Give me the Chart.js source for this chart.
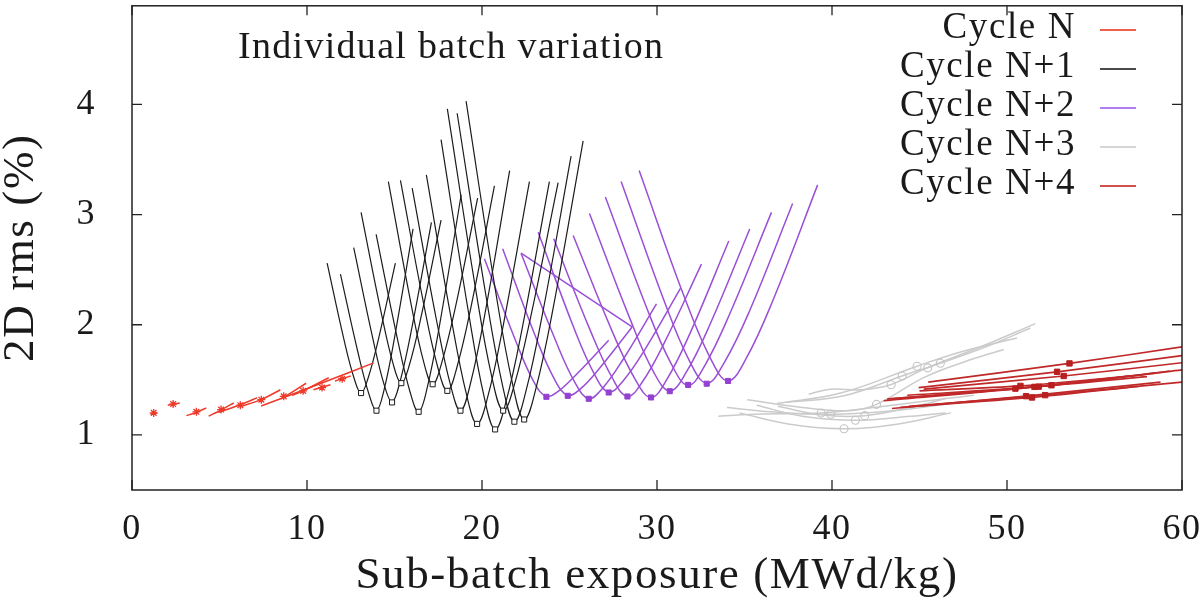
<!DOCTYPE html>
<html><head><meta charset="utf-8">
<script src="https://cdn.jsdelivr.net/npm/chart.js@4.4.1/dist/chart.umd.min.js"></script>
<style>html,body{margin:0;padding:0;background:#fff;}#wrap{width:1200px;height:611px;position:relative;}</style>
</head><body><div id="wrap"><canvas id="c" width="1200" height="611"></canvas></div>
<script>
// ---------- axis ticks ----------
const xTicks = [0, 10, 20, 30, 40, 50, 60];
const yTicks = [1, 2, 3, 4];
const seriesNames = ['Cycle N', 'Cycle N+1', 'Cycle N+2', 'Cycle N+3', 'Cycle N+4'];
const annotationText = 'Individual batch variation';

// ---------- Cycle N (asterisks + short segments) ----------
const cycleNMarkers = [[1.24,1.20],[2.35,1.28],[3.68,1.21],[5.09,1.23],[6.19,1.27],[7.39,1.32],[8.67,1.35],[9.78,1.40],[10.86,1.43],[12.01,1.51]];
const cycleNLines = [
  [[1.05,1.19],[1.45,1.20]],
  [[2.04,1.27],[2.73,1.29]],
  [[3.11,1.175],[3.68,1.205],[4.25,1.245]],
  [[4.38,1.17],[5.09,1.226],[5.81,1.29]],
  [[4.95,1.205],[6.19,1.274],[7.15,1.337]],
  [[6.19,1.256],[7.39,1.32],[8.48,1.41]],
  [[7.38,1.262],[8.67,1.34],[11.0,1.48],[13.81,1.654]],
  [[9.15,1.358],[9.78,1.40],[11.24,1.519]],
  [[8.67,1.34],[9.95,1.469]],
  [[10.37,1.41],[10.86,1.433],[11.34,1.455]],
  [[11.6,1.49],[12.01,1.51],[12.5,1.535]]
];

// ---------- Cycle N+1 (black curves, open squares) ----------
const cycleN1Markers = [[13.09,1.38],[13.97,1.22],[14.86,1.295],[15.39,1.47],[16.38,1.21],[17.18,1.46],[18.02,1.40],[18.77,1.22],[19.72,1.10],[20.75,1.05],[21.21,1.22],[21.85,1.12],[22.41,1.14]];
const cycleN1Curves = [
  [[11.15,2.56],[12.12,1.86],[12.70,1.51],[13.09,1.38],[13.48,1.51],[14.07,1.86],[15.05,2.56]],
  [[11.91,2.46],[12.94,1.73],[13.56,1.36],[13.97,1.22],[14.39,1.40],[15.02,1.90],[16.06,2.87]],
  [[12.67,2.70],[13.77,1.87],[14.42,1.45],[14.86,1.30],[15.31,1.48],[15.99,1.97],[17.11,2.93]],
  [[13.09,3.02],[14.24,2.11],[14.93,1.64],[15.39,1.47],[15.84,1.63],[16.53,2.08],[17.66,2.95]],
  [[13.95,2.82],[15.17,1.87],[15.89,1.39],[16.38,1.21],[16.87,1.43],[17.60,2.02],[18.81,3.18]],
  [[14.65,3.30],[15.92,2.21],[16.67,1.66],[17.18,1.46],[17.69,1.65],[18.47,2.15],[19.75,3.15]],
  [[15.34,3.31],[16.68,2.18],[17.48,1.61],[18.02,1.40],[18.56,1.61],[19.37,2.16],[20.71,3.26]],
  [[16.01,3.24],[17.39,2.05],[18.22,1.44],[18.77,1.22],[19.33,1.46],[20.18,2.11],[21.58,3.40]],
  [[16.82,3.36],[18.27,2.03],[19.14,1.35],[19.72,1.10],[20.32,1.34],[21.22,2.00],[22.71,3.30]],
  [[17.66,3.68],[19.21,2.13],[20.13,1.34],[20.75,1.05],[21.37,1.30],[22.30,1.97],[23.85,3.30]],
  [[18.02,3.96],[19.62,2.34],[20.57,1.52],[21.21,1.22],[21.84,1.45],[22.78,2.07],[24.35,3.29]],
  [[18.58,3.92],[20.22,2.27],[21.20,1.43],[21.85,1.12],[22.50,1.39],[23.47,2.11],[25.09,3.53]],
  [[19.09,4.03],[20.75,2.33],[21.75,1.46],[22.41,1.14],[23.08,1.42],[24.10,2.18],[25.78,3.67]]
];

// ---------- Cycle N+2 (purple curves, filled squares) ----------
const cycleN2Markers = [[23.68,1.346],[24.90,1.355],[26.10,1.328],[27.24,1.385],[28.31,1.349],[29.66,1.340],[30.73,1.397],[31.78,1.454],[32.84,1.465],[34.06,1.490]];
const cycleN2Curves = [
  [[20.14,2.60],[21.91,1.86],[22.97,1.48],[23.68,1.35],[24.39,1.40],[25.46,1.56],[27.24,1.86]],
  [[21.18,2.69],[23.04,1.90],[24.16,1.50],[24.90,1.36],[25.64,1.42],[26.74,1.61],[28.58,1.98]],
  [[22.23,2.65],[24.17,1.87],[25.33,1.47],[26.10,1.33],[26.87,1.42],[28.04,1.68],[29.97,2.19]],
  [[23.21,2.84],[25.23,1.98],[26.43,1.55],[27.24,1.39],[28.06,1.49],[29.29,1.77],[31.34,2.33]],
  [[24.10,2.78],[26.21,1.94],[27.47,1.51],[28.31,1.35],[29.16,1.48],[30.43,1.84],[32.54,2.55]],
  [[25.21,2.81],[27.44,1.94],[28.77,1.50],[29.66,1.34],[30.55,1.50],[31.88,1.92],[34.10,2.76]],
  [[26.14,3.01],[28.44,2.06],[29.81,1.57],[30.73,1.40],[31.64,1.56],[33.02,2.00],[35.30,2.87]],
  [[27.05,3.16],[29.42,2.15],[30.83,1.64],[31.78,1.45],[32.73,1.63],[34.16,2.10],[36.54,3.02]],
  [[27.95,3.30],[30.40,2.22],[31.86,1.67],[32.84,1.47],[33.82,1.65],[35.30,2.13],[37.75,3.10]],
  [[28.98,3.40],[31.52,2.27],[33.04,1.70],[34.06,1.49],[35.08,1.69],[36.62,2.22],[39.18,3.27]]
];
const cycleN2Connector = [[28.58,1.98],[22.23,2.65]];

// ---------- Cycle N+3 (grey lines, open circles) ----------
const cycleN3Markers = [[44.86,1.624],[45.47,1.609],[46.19,1.651],[44.01,1.535],[43.38,1.456],[42.54,1.277],[39.38,1.199],[39.93,1.187],[41.34,1.133],[41.87,1.175],[40.69,1.056]];
const cycleN3Lines = [
  [[38.67,1.37],[39.91,1.415],[41.63,1.41],[43.34,1.456],[45.43,1.609],[48.5,1.80],[51.62,2.01]],
  [[37.43,1.295],[40.67,1.355],[44.0,1.535],[46.19,1.651],[48.8,1.80],[51.34,1.97]],
  [[36.86,1.286],[40.5,1.38],[44.86,1.624],[47.5,1.76],[50.57,1.88]],
  [[35.15,1.32],[38.3,1.25],[41.0,1.22],[42.54,1.277],[45.24,1.52],[47.5,1.66],[49.81,1.775]],
  [[33.5,1.17],[36.0,1.19],[39.38,1.199],[43.0,1.26],[46.5,1.33],[48.1,1.36]],
  [[34.0,1.25],[36.5,1.21],[39.93,1.187],[43.5,1.22],[47.5,1.30]],
  [[35.7,1.27],[38.3,1.17],[41.34,1.133],[44.5,1.17],[46.5,1.20]],
  [[36.9,1.26],[39.5,1.18],[41.87,1.175],[44.5,1.25],[46.5,1.33]],
  [[34.7,1.20],[37.5,1.10],[40.69,1.056],[43.8,1.10],[46.8,1.20]]
];

// ---------- Cycle N+4 (dark red lines, filled squares) ----------
const cycleN4Markers = [[53.57,1.649],[52.86,1.573],[53.24,1.535],[52.54,1.451],[51.81,1.438],[51.57,1.436],[50.77,1.445],[50.48,1.42],[51.09,1.352],[51.43,1.34],[52.18,1.361]];
const cycleN4Lines = [
  [[45.5,1.48],[53.57,1.649],[60,1.80]],
  [[44.95,1.43],[52.86,1.573],[60,1.72]],
  [[45.24,1.415],[53.24,1.535],[60,1.655]],
  [[43.15,1.325],[52.54,1.451],[60,1.59]],
  [[42.95,1.31],[51.81,1.438],[59.3,1.58]],
  [[44.3,1.36],[51.57,1.436],[58.0,1.53]],
  [[45.0,1.40],[50.77,1.445],[57.0,1.535]],
  [[43.5,1.33],[50.48,1.42],[58.5,1.56]],
  [[43.43,1.24],[51.09,1.352],[58.77,1.48]],
  [[43.9,1.25],[51.43,1.34],[57.5,1.44]],
  [[44.38,1.26],[52.18,1.361],[60,1.48]]
];

// ---------- styling ----------
const FONT = "'Liberation Serif', 'Times New Roman', serif";
const TEXT = '#1a1a1a';
const C_N = '#ee3a2a', C_N1 = '#1c1c1c', C_N2 = '#9a4fd6', C_N3 = '#cbcbcb', C_N4 = '#c0292a';
const legendColors = ['#f0604e', '#4a4a4a', '#b07ef0', '#d6d6d6', '#d0504a'];

const toXY = pts => pts.map(p => ({x: p[0], y: p[1]}));
const lineDS = (pts, color, w, tension) => ({data: toXY(pts), showLine: true, borderColor: color, borderWidth: w, pointRadius: 0, pointHoverRadius: 0, tension: tension, fill: false});
const markDS = (pts, style, r, border, bg, bw) => ({data: toXY(pts), showLine: false, pointStyle: style, pointRadius: r, pointHoverRadius: r, pointBorderColor: border, pointBackgroundColor: bg, pointBorderWidth: bw});

const datasets = [];
datasets.push(markDS(cycleNMarkers, 'star', 4, C_N, C_N, 1.3));
datasets.push(markDS(cycleN1Markers, 'rect', 3.6, C_N1, '#ffffff', 1));
datasets.push(markDS(cycleN2Markers, 'rect', 3.6, '#9440d0', '#9440d0', 1));
datasets.push(markDS(cycleN3Markers, 'circle', 4, '#c4c4c4', 'rgba(255,255,255,0)', 1.1));
datasets.push(markDS(cycleN4Markers, 'rect', 3.8, '#b8201f', '#b8201f', 1));
cycleNLines.forEach(l => datasets.push(lineDS(l, C_N, 1.5, 0.2)));
cycleN1Curves.forEach(l => datasets.push(lineDS(l, C_N1, 1.2, 0.4)));
cycleN2Curves.forEach(l => datasets.push(lineDS(l, C_N2, 1.5, 0.4)));
datasets.push(lineDS(cycleN2Connector, C_N2, 1.5, 0));
cycleN4Lines.forEach(l => datasets.push(lineDS(l, C_N4, 1.7, 0.3)));
cycleN3Lines.forEach(l => datasets.push(lineDS(l, C_N3, 1.5, 0.4)));

const framePlugin = {
  id: 'frame',
  beforeDraw(chart) { chart.ctx.letterSpacing = '1.6px'; },
  beforeDatasetsDraw(chart) { chart.ctx.letterSpacing = '0px'; },
  afterDatasetsDraw(chart) {
    const {ctx, chartArea: a, scales: {x, y}} = chart;
    ctx.save();
    ctx.strokeStyle = '#222';
    ctx.lineWidth = 1.5;
    ctx.strokeRect(a.left, a.top + 0.5, a.right - a.left, a.bottom - a.top - 0.5);
    ctx.lineWidth = 1.3;
    const tl = 10;
    ctx.beginPath();
    xTicks.forEach(v => {
      const px = x.getPixelForValue(v);
      ctx.moveTo(px, a.bottom); ctx.lineTo(px, a.bottom - tl);
      ctx.moveTo(px, a.top); ctx.lineTo(px, a.top + tl);
    });
    yTicks.forEach(v => {
      const py = y.getPixelForValue(v);
      ctx.moveTo(a.left, py); ctx.lineTo(a.left + tl, py);
      ctx.moveTo(a.right, py); ctx.lineTo(a.right - tl, py);
    });
    ctx.stroke();
    ctx.restore();
  },
  afterDraw(chart) {
    const ctx = chart.ctx;
    ctx.save();
    ctx.fillStyle = TEXT;
    ctx.font = '38px ' + FONT;
    ctx.letterSpacing = '1.3px';
    ctx.textAlign = 'left';
    ctx.textBaseline = 'alphabetic';
    ctx.fillText(annotationText, 238, 58);
    ctx.font = '37px ' + FONT;
    ctx.letterSpacing = '1.6px';
    ctx.textAlign = 'right';
    const baselines = [37.5, 76.5, 115.5, 154.5, 193.5];
    seriesNames.forEach((name, i) => {
      ctx.fillStyle = TEXT;
      ctx.fillText(name, 1076, baselines[i]);
      ctx.strokeStyle = legendColors[i];
      ctx.lineWidth = 2;
      ctx.beginPath();
      ctx.moveTo(1100, baselines[i] - 7.5);
      ctx.lineTo(1136, baselines[i] - 7.5);
      ctx.stroke();
    });
    ctx.restore();
  }
};

new Chart(document.getElementById('c'), {
  type: 'scatter',
  data: {datasets},
  options: {
    responsive: false,
    animation: false,
    events: [],
    layout: {padding: {top: 0, right: 18, left: 0, bottom: 0}},
    plugins: {legend: {display: false}, tooltip: {enabled: false}},
    scales: {
      x: {
        type: 'linear', min: 0, max: 60,
        afterBuildTicks: s => { s.ticks = xTicks.map(v => ({value: v})); },
        afterFit: s => { s.height = 121; s.paddingLeft = 0; s.paddingRight = 0; },
        grid: {display: false, drawTicks: false},
        border: {display: false},
        ticks: {font: {family: FONT, size: 36}, color: TEXT, padding: 18, maxRotation: 0, autoSkip: false},
        title: {display: true, text: 'Sub-batch exposure (MWd/kg)', font: {family: FONT, size: 45}, color: TEXT, padding: {top: 0, bottom: 8}}
      },
      y: {
        type: 'linear', min: 0.5, max: 4.9,
        afterBuildTicks: s => { s.ticks = yTicks.map(v => ({value: v})); },
        afterFit: s => { s.width = 132; s.paddingTop = 0; s.paddingBottom = 0; },
        grid: {display: false, drawTicks: false},
        border: {display: false},
        ticks: {font: {family: FONT, size: 36}, color: TEXT, padding: 36, autoSkip: false},
        title: {display: true, text: '2D rms (%)', font: {family: FONT, size: 45, lineHeight: 0.95}, color: TEXT, padding: {top: 0, bottom: 0}}
      }
    }
  },
  plugins: [framePlugin]
});
</script></body></html>
